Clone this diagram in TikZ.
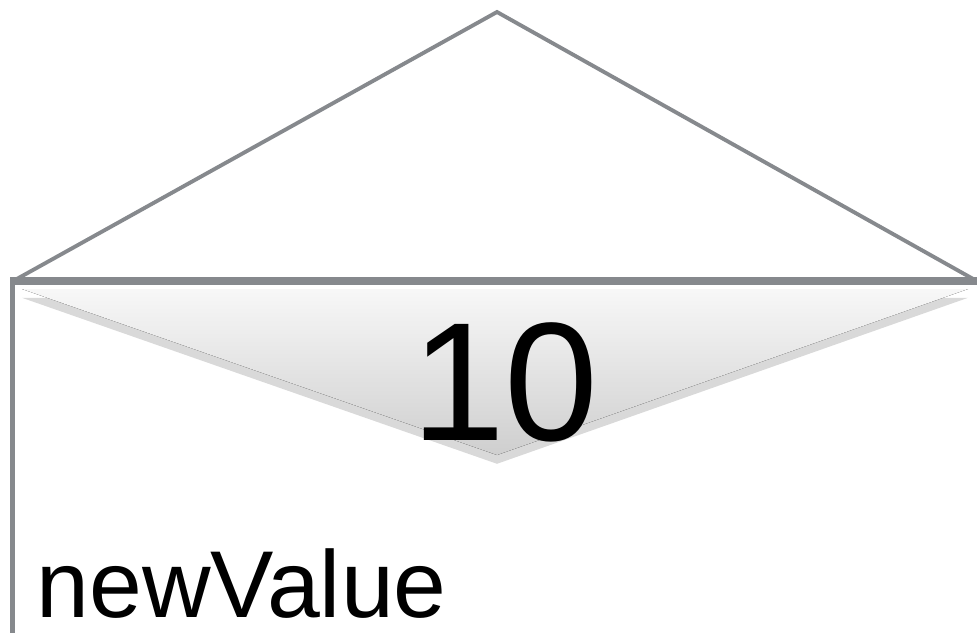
\documentclass[tikz,border=0pt]{standalone}
\usepackage{fontspec}
\setmainfont{Liberation Sans}
\usetikzlibrary{shadows}
\definecolor{edgegray}{RGB}{134,137,141}

\begin{document}
\begin{tikzpicture}[
x=0.01cm, y=-0.01cm,
outline/.style={draw=edgegray, line width=1.1pt, line join=miter},
rule/.style={draw=edgegray, line width=2.3pt},
wedge/.style={top color=gray!6, bottom color=gray!38, draw=none,
  drop shadow={opacity=0.3, shadow xshift=0pt, shadow yshift=-2.5pt}},
bigtext/.style={inner sep=0pt, font=\fontsize{48}{50}\selectfont},
labeltext/.style={inner sep=0pt, font=\fontsize{27}{30}\selectfont}
]
\useasboundingbox (0,0) rectangle (977,633);

% roof and base
\coordinate (left) at (15,280);
\coordinate (top) at (497,12);
\coordinate (right) at (975,280);
\draw[outline] (left) -- (top) -- (right);
\draw[rule] (10,281) -- (977,281);
\draw[edgegray, line width=1.5pt] (12.5,281) -- (12.5,633);

% shaded wedge
\fill[wedge] (22,289) -- (497,455) -- (968,289) -- cycle;

\node[bigtext, anchor=base] (val) at (505,440) {10};
\node[labeltext, anchor=base west] (name) at (36,617) {newValue};
\end{tikzpicture}
\end{document}
